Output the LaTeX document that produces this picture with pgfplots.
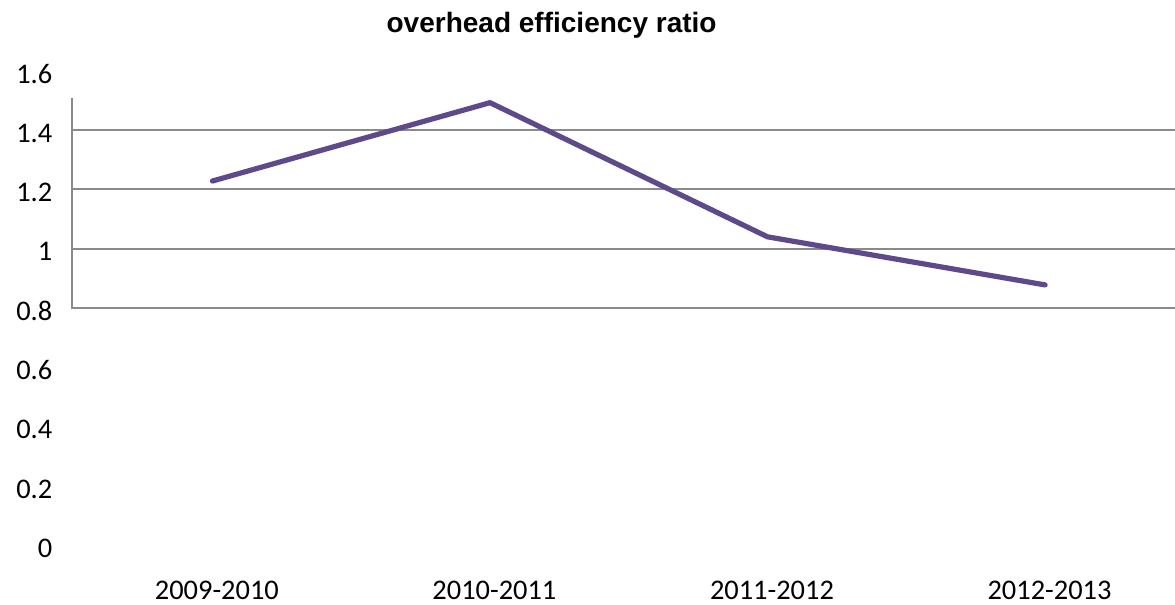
\documentclass[border=0pt]{standalone}
\usepackage{pgfplots}
\pgfplotsset{compat=1.18}
\usepackage{fontspec}
\setmainfont{Carlito}
\newfontfamily\titlefont{Liberation Sans}

\definecolor{ratioline}{RGB}{94,74,138}
\definecolor{gridgray}{RGB}{138,138,138}

\pgfplotstableread{
x  ratio
0  1.228
1  1.492
2  1.040
3  0.878
}\ratiodata

\begin{document}
\begin{tikzpicture}
\begin{axis}[
  scale only axis,
  width=551.5pt, height=237.4pt,
  xmin=-0.507, xmax=3.468,
  ymin=0, ymax=1.6,
  axis line style={draw=none},
  major tick length=0pt,
  xtick={0,1,2,3},
  xticklabels={2009-2010,2010-2011,2011-2012,2012-2013},
  ytick={0,0.2,0.4,0.6,0.8,1,1.2,1.4,1.6},
  yticklabels={0,0.2,0.4,0.6,0.8,1,1.2,1.4,1.6},
  ticklabel style={font=\fontsize{14.2}{17}\selectfont, inner sep=0pt},
  xticklabel style={anchor=center, yshift=-22.5pt, xshift=2.2pt},
  yticklabel style={anchor=east, xshift=-9.5pt, yshift=-1.5pt},
  clip=false,
]
  % frame of the value band: left edge and horizontal rules
  \draw[gridgray, line width=1pt] (axis cs:-0.507,1.507) -- (axis cs:-0.507,0.8) -- (axis cs:3.468,0.8);
  \draw[gridgray, line width=1pt] (axis cs:-0.507,1.0) -- (axis cs:3.468,1.0);
  \draw[gridgray, line width=1pt] (axis cs:-0.507,1.2) -- (axis cs:3.468,1.2);
  \draw[gridgray, line width=1pt] (axis cs:-0.507,1.4) -- (axis cs:3.468,1.4);

  \addplot[ratioline, line width=2.6pt, line cap=round, line join=round, mark=none]
    table[x=x, y=ratio] {\ratiodata};

  \node[anchor=base, font=\titlefont\bfseries\fontsize{14}{17}\selectfont]
    at (axis cs:1.222,1.730) {overhead efficiency ratio};

  \coordinate (LL) at (rel axis cs:0,0);
  \coordinate (UR) at (rel axis cs:1,1);
\end{axis}
\pgfresetboundingbox
\path ([xshift=-35.85pt,yshift=-29.3pt]LL) rectangle ([yshift=35.3pt]UR);
\end{tikzpicture}
\end{document}
